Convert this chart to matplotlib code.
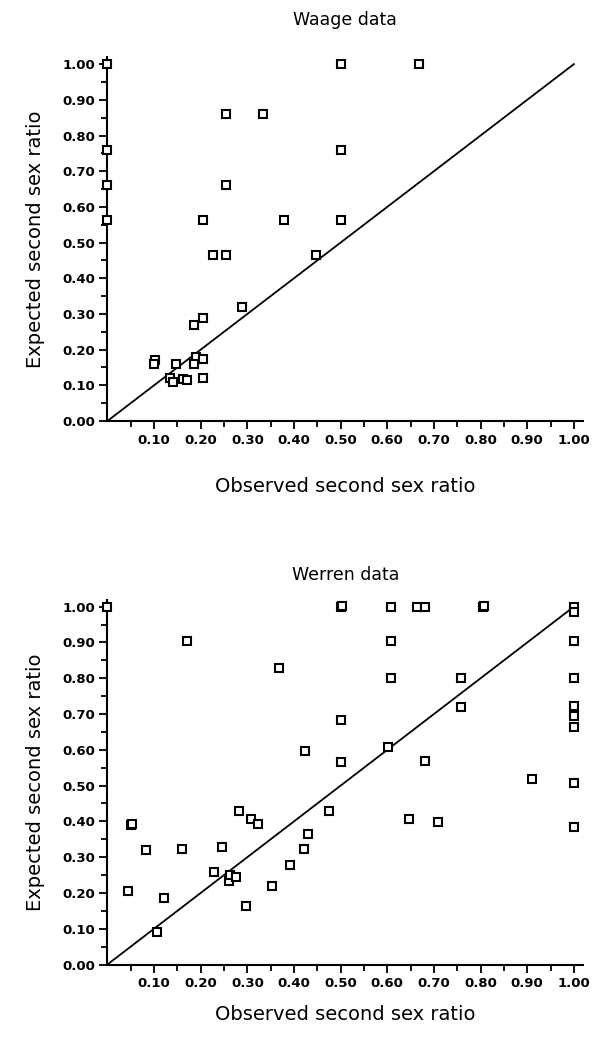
import numpy as np
import matplotlib
matplotlib.use("Agg")
import matplotlib.pyplot as plt
from matplotlib.ticker import FixedLocator

# Waage data: observed vs expected second sex ratio
waage_obs = [0.0, 0.0, 0.0, 0.0, 0.254, 0.333, 0.5, 0.5, 0.5, 0.667,
             0.254, 0.205, 0.378, 0.226, 0.254, 0.448, 0.288, 0.186, 0.205,
             0.102, 0.10, 0.148, 0.191, 0.186, 0.205, 0.205,
             0.134, 0.141, 0.163, 0.171]
waage_exp = [1.00, 0.76, 0.66, 0.563, 0.86, 0.86, 1.00, 0.76, 0.563, 1.00,
             0.66, 0.563, 0.563, 0.465, 0.465, 0.465, 0.32, 0.269, 0.29,
             0.171, 0.16, 0.16, 0.178, 0.16, 0.175, 0.12,
             0.12, 0.11, 0.117, 0.115]

# Werren data (near-duplicates give the heavy squares)
werren_obs = [0.0, 0.17, 0.368, 0.5, 0.502, 0.5, 0.423, 0.5,
              0.051, 0.053, 0.083, 0.044, 0.122, 0.106, 0.160, 0.245, 0.229,
              0.26, 0.262, 0.276, 0.283, 0.307, 0.323, 0.298, 0.352, 0.392,
              0.422, 0.431, 0.476,
              0.607, 0.663, 0.681, 0.806, 0.808, 1.0, 1.0, 0.607, 1.0,
              0.607, 0.757, 1.0, 0.757, 1.0, 1.0, 1.0, 0.601, 0.681,
              0.91, 1.0, 1.0, 0.646, 0.708]
werren_exp = [1.00, 0.904, 0.830, 1.00, 1.002, 0.683, 0.596, 0.566,
              0.39, 0.392, 0.32, 0.205, 0.185, 0.091, 0.323, 0.329, 0.258,
              0.234, 0.25, 0.245, 0.429, 0.408, 0.394, 0.164, 0.219, 0.278,
              0.323, 0.364, 0.429,
              1.00, 1.00, 1.00, 1.00, 1.002, 1.00, 0.985, 0.904, 0.904,
              0.801, 0.801, 0.801, 0.72, 0.722, 0.694, 0.664, 0.607, 0.568,
              0.518, 0.508, 0.384, 0.407, 0.399]

major = np.round(np.arange(0.1, 1.01, 0.1), 2)
ymajor = np.round(np.arange(0.0, 1.01, 0.1), 2)
minor = np.round(np.arange(0.05, 1.01, 0.1), 2)


def style_axes(ax, title, tpad, lpad):
    ax.set_xlim(0, 1.02)
    ax.set_ylim(0, 1.02)
    for s in ("top", "right"):
        ax.spines[s].set_visible(False)
    for s in ("left", "bottom"):
        ax.spines[s].set_linewidth(1.5)
    ax.xaxis.set_major_locator(FixedLocator(major))
    ax.xaxis.set_minor_locator(FixedLocator(minor))
    ax.yaxis.set_major_locator(FixedLocator(ymajor))
    ax.yaxis.set_minor_locator(FixedLocator(minor))
    ax.set_xticklabels([f"{v:.2f}" for v in major])
    ax.set_yticklabels([f"{v:.2f}" for v in ymajor])
    ax.tick_params(which="major", direction="out", length=6, width=1.3,
                   labelsize=9.5, pad=3)
    ax.tick_params(which="minor", direction="out", length=4, width=1.3)
    for lab in ax.get_xticklabels() + ax.get_yticklabels():
        lab.set_fontweight("bold")
    ax.plot([0, 1], [0, 1], color="black", lw=1.3)
    ax.set_title(title, fontsize=12.5, pad=tpad)
    ax.set_xlabel("Observed second sex ratio", fontsize=14, labelpad=lpad)
    ax.set_ylabel("Expected second sex ratio", fontsize=14, labelpad=12)


fig = plt.figure(figsize=(6, 10.38), dpi=100)
ax1 = fig.add_axes([0.179, 0.5944, 0.793, 0.3507])
ax2 = fig.add_axes([0.179, 0.0708, 0.793, 0.3516])

for ax, xs, ys, title, tpad, lpad in [
        (ax1, waage_obs, waage_exp, "Waage data", 23, 22),
        (ax2, werren_obs, werren_exp, "Werren data", 14, 11)]:
    style_axes(ax, title, tpad, lpad)
    ax.plot(xs, ys, ls="none", marker="s", ms=6, mfc="white",
            mec="black", mew=1.5, clip_on=False, zorder=3)

fig.savefig("out.png", dpi=100)
